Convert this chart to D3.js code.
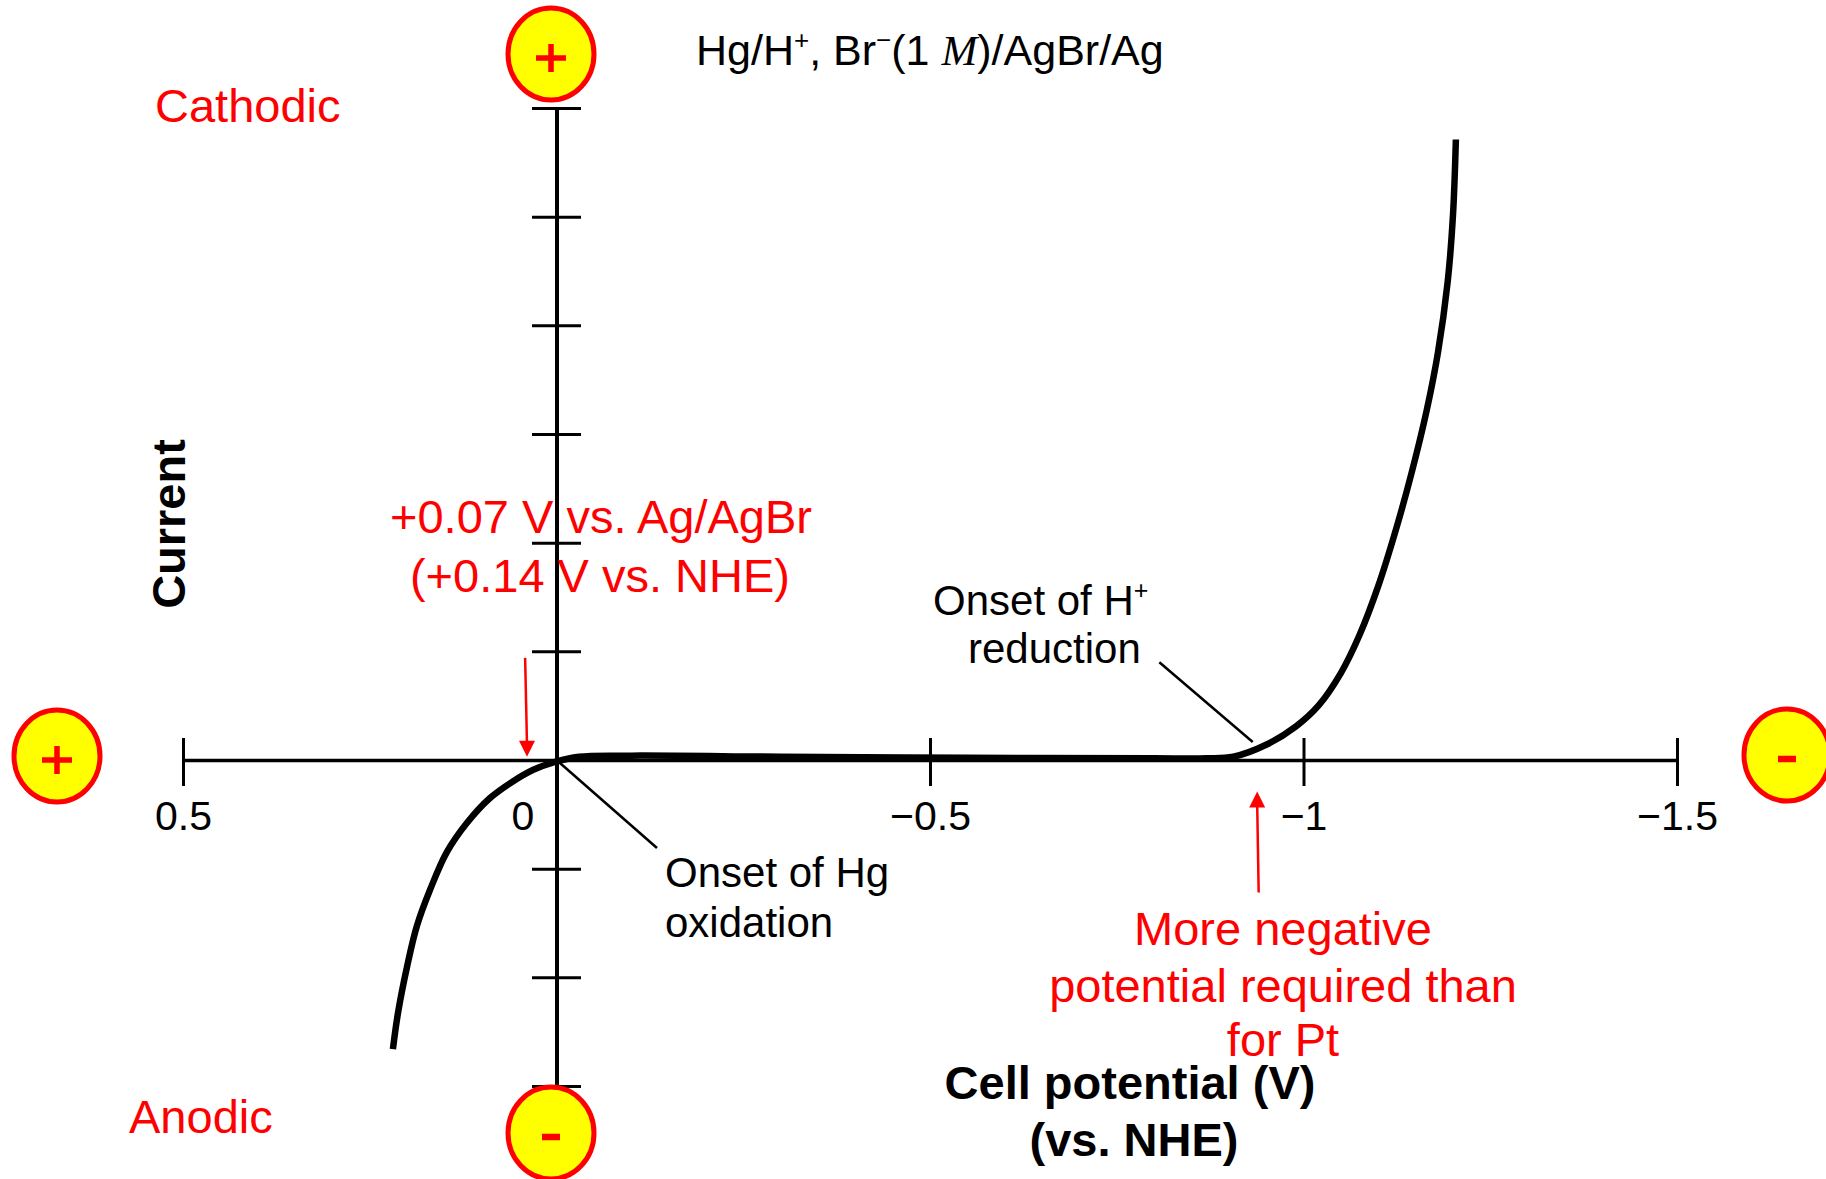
<!DOCTYPE html>
<html>
<head>
<meta charset="utf-8">
<script src="https://cdn.jsdelivr.net/npm/d3@7"></script>
<style>
  body { margin: 0; background: #fff; }
  text { font-family: "Liberation Sans", Arial, sans-serif; }
</style>
</head>
<body>
<div id="chart"></div>
<script>
// polarisation curve (V vs. NHE, current in tick units)
var potential = [0.219, 0.212, 0.200, 0.187, 0.169, 0.147, 0.120, 0.089, 0.059, 0.031, 0.003,
                 -0.03, -0.1, -0.3, -0.55, -0.8, -0.87, -0.906, -0.95, -0.99, -1.02, -1.05,
                 -1.075, -1.10, -1.125, -1.145, -1.165, -1.18, -1.193, -1.200, -1.204];
var current = [-2.66, -2.32, -1.90, -1.53, -1.19, -0.85, -0.58, -0.35, -0.20, -0.09, -0.02,
               0.03, 0.04, 0.03, 0.02, 0.015, 0.015, 0.03, 0.14, 0.31, 0.50, 0.80,
               1.15, 1.60, 2.15, 2.65, 3.22, 3.75, 4.40, 5.00, 5.71];

// axis ticks
var xTicks = [0.5, 0, -0.5, -1, -1.5];
var xTickLabels = ["0.5", "0", "\u22120.5", "\u22121", "\u22121.5"];
var yTicks = [-3, -2, -1, 1, 2, 3, 4, 5, 6];

var width = 1826, height = 1179;

var svg = d3.select("#chart")
  .append("svg")
    .attr("width", width)
    .attr("height", height);

svg.append("rect").attr("width", width).attr("height", height).attr("fill", "#fff");

// scales (potential runs from + on the left to - on the right)
var x = d3.scaleLinear().domain([0.5, -1.5]).range([183, 1677]);
var y = d3.scaleLinear().domain([-3, 6]).range([1086, 108]);

// X axis, ticks cross the line
var xAxisG = svg.append("g")
  .attr("transform", "translate(0," + y(0) + ")")
  .call(d3.axisBottom(x)
    .tickValues(xTicks)
    .tickFormat(function(d, i) { return xTickLabels[i]; })
    .tickSizeOuter(0)
    .tickSizeInner(26));
xAxisG.select(".domain").attr("stroke", "#000").attr("stroke-width", 3.5);
xAxisG.selectAll(".tick line")
  .attr("y1", -22).attr("y2", 26)
  .attr("stroke", "#000").attr("stroke-width", 3)
  .attr("display", function(d) { return d === 0 ? "none" : null; });
xAxisG.selectAll(".tick text")
  .attr("y", 70).attr("dy", 0)
  .attr("x", function(d) { return d === 0 ? -34 : 0; })
  .attr("fill", "#000")
  .style("font-family", "'Liberation Sans', Arial, sans-serif")
  .style("font-size", "41px");

// Y axis, no labels
var yAxisG = svg.append("g")
  .attr("transform", "translate(" + x(0) + ",0)")
  .call(d3.axisLeft(y)
    .tickValues(yTicks)
    .tickFormat("")
    .tickSizeOuter(0)
    .tickSizeInner(24.5));
yAxisG.select(".domain").attr("stroke", "#000").attr("stroke-width", 4);
yAxisG.selectAll(".tick line")
  .attr("x1", 24.5)
  .attr("stroke", "#000").attr("stroke-width", 3);

// the curve
var pts = potential.map(function(v, i) { return {v: v, i: current[i]}; });
svg.append("path")
  .datum(pts)
  .attr("fill", "none")
  .attr("stroke", "#000")
  .attr("stroke-width", 6.5)
  .attr("d", d3.line()
    .curve(d3.curveCatmullRom.alpha(0.5))
    .x(function(d) { return x(d.v); })
    .y(function(d) { return y(d.i); }));

// leader lines for the black notes
svg.append("line")
  .attr("x1", x(-0.807)).attr("y1", y(0.90))
  .attr("x2", x(-0.932)).attr("y2", y(0.166))
  .attr("stroke", "#000").attr("stroke-width", 2.5);
svg.append("line")
  .attr("x1", x(-0.005)).attr("y1", y(-0.03))
  .attr("x2", x(-0.1345)).attr("y2", y(-0.81))
  .attr("stroke", "#000").attr("stroke-width", 2.5);

// red arrows
function arrow(v0, i0, v1, i1) {
  var x0 = x(v0), y0 = y(i0), x1 = x(v1), y1 = y(i1);
  var dir = y1 > y0 ? 1 : -1;
  svg.append("line")
    .attr("x1", x0).attr("y1", y0)
    .attr("x2", x1).attr("y2", y1 - dir * 12)
    .attr("stroke", "#ff0000").attr("stroke-width", 2.5);
  svg.append("path")
    .attr("d", "M" + x1 + "," + y1 + "L" + (x1 - 8) + "," + (y1 - dir * 16) + "L" + (x1 + 8) + "," + (y1 - dir * 16) + "Z")
    .attr("fill", "#ff0000");
}
arrow(0.042, 0.94, 0.0395, 0.03);
arrow(-0.94, -1.22, -0.938, -0.29);

// black notes
var noteFont = "42px";
var onsetH = svg.append("text").attr("x", 933).attr("y", 615).style("font-size", noteFont);
onsetH.append("tspan").text("Onset of H");
onsetH.append("tspan").attr("dy", -16).style("font-size", "25px").text("+");
svg.append("text").attr("x", 968).attr("y", 663).style("font-size", noteFont).text("reduction");
svg.append("text").attr("x", 665).attr("y", 887).style("font-size", noteFont).text("Onset of Hg");
svg.append("text").attr("x", 665).attr("y", 937).style("font-size", noteFont).text("oxidation");

// title
var title = svg.append("text").attr("x", 696).attr("y", 65).style("font-size", "43px");
title.append("tspan").text("Hg/H");
title.append("tspan").attr("dy", -16).style("font-size", "26px").text("+");
title.append("tspan").attr("dy", 16).text(", Br");
title.append("tspan").attr("dy", -16).style("font-size", "26px").text("\u2212");
title.append("tspan").attr("dy", 16).text("(1 ");
title.append("tspan")
  .style("font-family", "'Liberation Serif', serif")
  .style("font-style", "italic")
  .text("M");
title.append("tspan").text(")/AgBr/Ag");

// axis titles
svg.append("text")
  .attr("transform", "translate(185,524) rotate(-90)")
  .attr("text-anchor", "middle")
  .style("font-size", "47px").style("font-weight", "bold")
  .text("Current");
svg.append("text").attr("x", 1130).attr("y", 1099).attr("text-anchor", "middle")
  .style("font-size", "47px").style("font-weight", "bold")
  .text("Cell potential (V)");
svg.append("text").attr("x", 1134).attr("y", 1156).attr("text-anchor", "middle")
  .style("font-size", "47px").style("font-weight", "bold")
  .text("(vs. NHE)");

// red labels
var red = "#ff0000";
function redText(tx, ty, anchor, s) {
  svg.append("text").attr("x", tx).attr("y", ty).attr("text-anchor", anchor)
    .attr("fill", red).style("font-size", "47px").text(s);
}
redText(155, 122, "start", "Cathodic");
redText(129, 1133, "start", "Anodic");
redText(601, 533, "middle", "+0.07 V vs. Ag/AgBr");
redText(600, 592, "middle", "(+0.14 V vs. NHE)");
redText(1283, 945, "middle", "More negative");
redText(1283, 1002, "middle", "potential required than");
redText(1283, 1056, "middle", "for Pt");

// sign badges
var badges = [
  {cx: 551, cy: 54, sign: "+"},
  {cx: 57, cy: 756, sign: "+"},
  {cx: 1787, cy: 755, sign: "-"},
  {cx: 551, cy: 1133, sign: "-"}
];
var b = svg.selectAll(".badge").data(badges).enter().append("g")
  .attr("class", "badge")
  .attr("transform", function(d) { return "translate(" + d.cx + "," + d.cy + ")"; });
b.append("ellipse")
  .attr("rx", 43).attr("ry", 46)
  .attr("fill", "#ffff00")
  .attr("stroke", red).attr("stroke-width", 5);
b.append("path")
  .attr("d", function(d) {
    return d.sign === "+" ? "M-15,4H15M0,-10V18" : "M-9,4H9";
  })
  .attr("stroke", red)
  .attr("stroke-width", function(d) { return d.sign === "+" ? 5.5 : 6.5; })
  .attr("fill", "none");
</script>
</body>
</html>
